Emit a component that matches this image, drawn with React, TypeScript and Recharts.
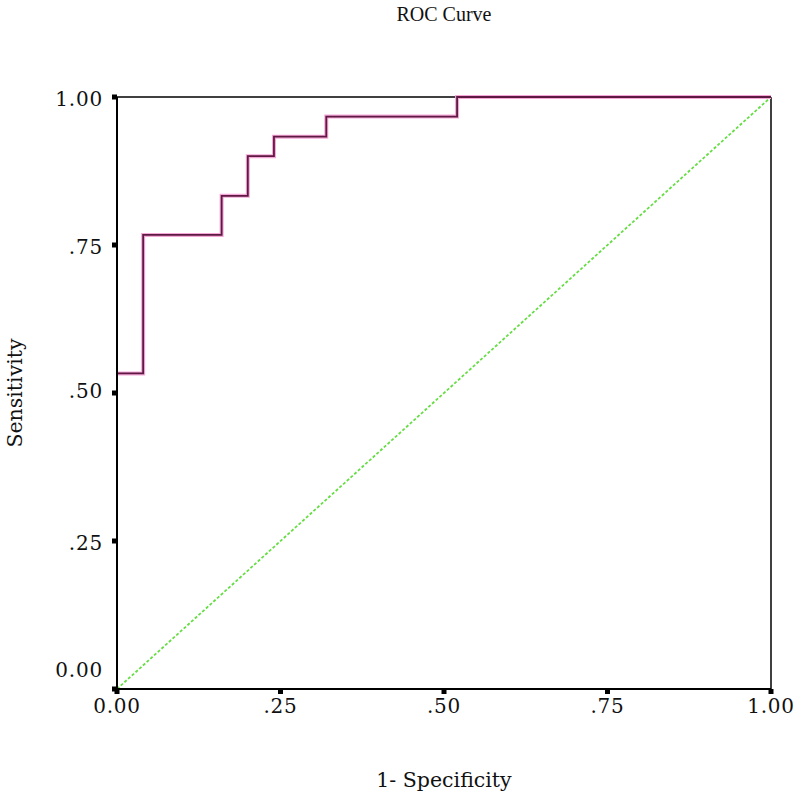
import {
  LineChart,
  Line,
  XAxis,
  YAxis,
  ReferenceLine,
  Label,
} from "recharts";

const fpr = [0, 0.04, 0.16, 0.2, 0.24, 0.32, 0.52, 1.0];
const tpr = [0.533, 0.767, 0.833, 0.9, 0.933, 0.967, 1.0, 1.0];
const refX = [0, 1];
const refY = [0, 1];
const ticks = [0, 0.25, 0.5, 0.75, 1];

const rocData = fpr.map((x, i) => ({ fpr: x, tpr: tpr[i] }));
const refData = refX.map((x, i) => ({ fpr: x, ref: refY[i] }));

const FONT = "'DejaVu Serif', serif";

const fmt = (v: number) => (v === 0 ? "0.00" : v === 1 ? "1.00" : "." + String(Math.round(v * 100)));

function YTick(props: any) {
  const { x, y, payload } = props;
  const v = payload.value as number;
  const dy = v === 0 ? -19 : v === 0.5 ? -2 : 2;
  return (
    <g>
      <rect x={x - 5} y={y - 2.5} width={5} height={5} fill="#000" />
      <text
        x={x - 14}
        y={y + dy}
        textAnchor="end"
        dominantBaseline="central"
        fontFamily={FONT}
        fontSize={20}
        letterSpacing={0.8}
        fill="#111"
      >
        {fmt(v)}
      </text>
    </g>
  );
}

function XTick(props: any) {
  const { x, y, payload } = props;
  const v = payload.value as number;
  return (
    <g>
      <rect x={x - 2.5} y={y} width={5} height={5} fill="#000" />
      <text
        x={x}
        y={y + 17}
        textAnchor="middle"
        dominantBaseline="central"
        fontFamily={FONT}
        fontSize={20}
        letterSpacing={0.8}
        fill="#111"
      >
        {fmt(v)}
      </text>
    </g>
  );
}

export default function App() {
  return (
    <div style={{ position: "absolute", left: 0, top: 0, width: 794, height: 811, background: "#fff" }}>
      <div
        style={{
          position: "absolute",
          left: 0,
          width: 888,
          top: 3,
          textAlign: "center",
          fontFamily: "'Liberation Serif', serif",
          fontSize: 20,
          color: "#111",
        }}
      >
        ROC Curve
      </div>
      <LineChart
        width={794}
        height={811}
        margin={{ top: 97, right: 23, bottom: 0, left: 0 }}
      >
        <XAxis
          type="number"
          dataKey="fpr"
          domain={[0, 1]}
          ticks={ticks}
          height={122}
          tickSize={0}
          tickMargin={0}
          tick={<XTick />}
          axisLine={{ stroke: "#000", strokeWidth: 2 }}
          allowDuplicatedCategory={false}
        >
          <Label
            value="1- Specificity"
            position="insideBottom"
            offset={24}
            style={{ fontFamily: FONT, fontSize: 20.5, fill: "#111" }}
          />
        </XAxis>
        <YAxis
          type="number"
          domain={[0, 1]}
          ticks={ticks}
          width={117}
          tickSize={0}
          tickMargin={0}
          tick={<YTick />}
          axisLine={{ stroke: "#000", strokeWidth: 2 }}
        >
          <Label
            value="Sensitivity"
            angle={-90}
            position="insideLeft"
            offset={15}
            style={{ fontFamily: FONT, fontSize: 20.5, fill: "#111", textAnchor: "middle" }}
          />
        </YAxis>
        <ReferenceLine y={1} stroke="#000" strokeWidth={1.5} />
        <ReferenceLine x={1} stroke="#000" strokeWidth={1.5} />
        <Line
          data={refData}
          dataKey="ref"
          type="linear"
          stroke="#66dd44"
          strokeWidth={1.8}
          strokeDasharray="3 2"
          dot={false}
          isAnimationActive={false}
        />
        <Line
          data={rocData}
          dataKey="tpr"
          type="stepAfter"
          stroke="#f4a6d7"
          strokeWidth={4}
          dot={false}
          isAnimationActive={false}
        />
        <Line
          data={rocData}
          dataKey="tpr"
          type="stepAfter"
          stroke="#5e1a42"
          strokeWidth={1.8}
          dot={false}
          isAnimationActive={false}
        />
      </LineChart>
    </div>
  );
}
